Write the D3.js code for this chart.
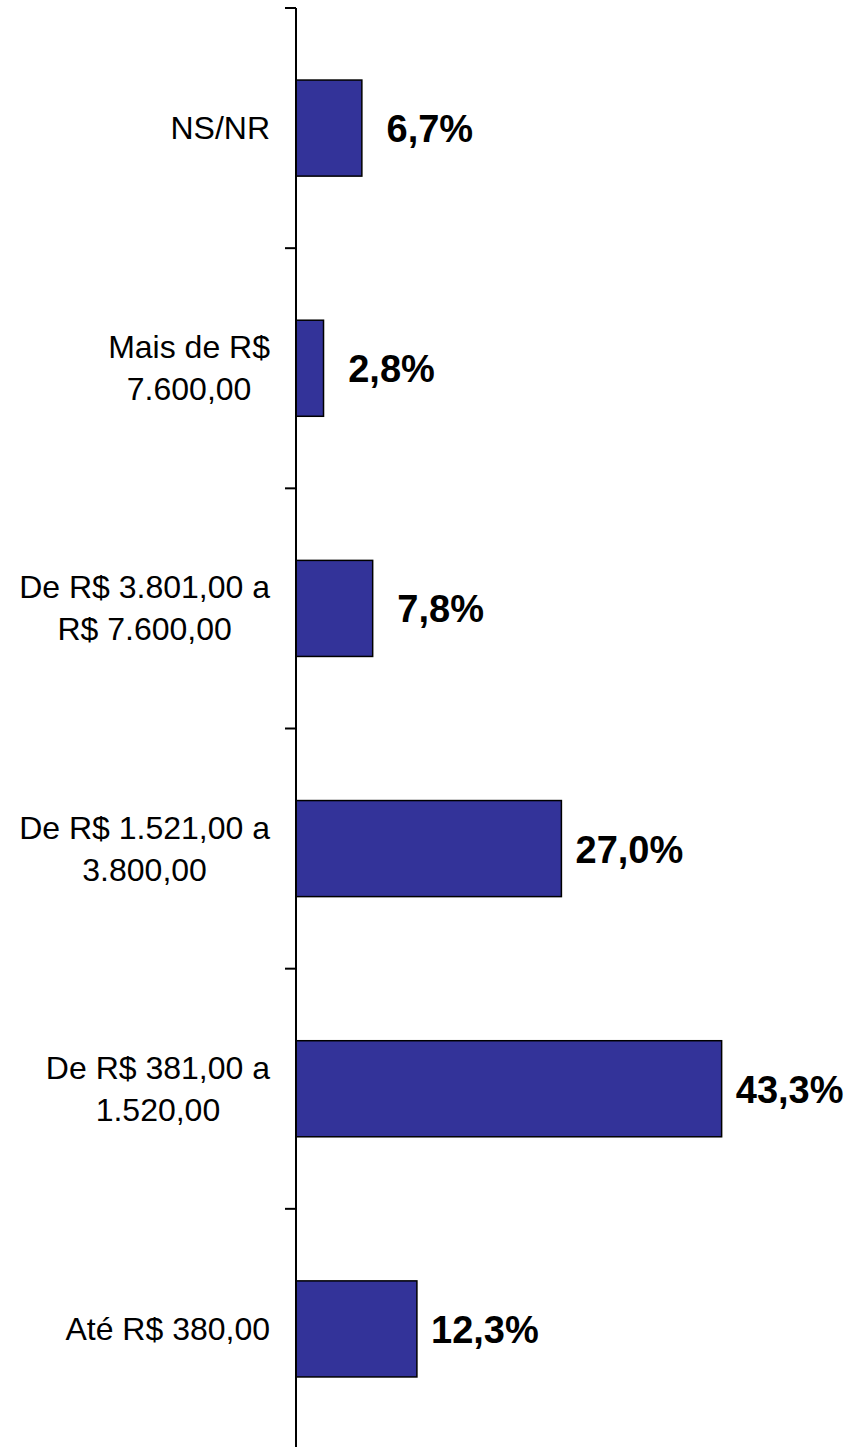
<!DOCTYPE html>
<html>
<head>
<meta charset="utf-8">
<script src="https://cdn.jsdelivr.net/npm/d3@7"></script>
<style>
  body { margin: 0; background: #fff; }
  svg { display: block; }
</style>
</head>
<body>
<div id="chart"></div>
<script>
// categories, listed from top to bottom, with their label lines
const categories = ["NS/NR", "Mais de R$ 7.600,00", "De R$ 3.801,00 a R$ 7.600,00",
    "De R$ 1.521,00 a 3.800,00", "De R$ 381,00 a 1.520,00", "Até R$ 380,00"];
const labelLines = [
    ["NS/NR"],
    ["Mais de R$", "7.600,00"],
    ["De R$ 3.801,00 a", "R$ 7.600,00"],
    ["De R$ 1.521,00 a", "3.800,00"],
    ["De R$ 381,00 a", "1.520,00"],
    ["Até R$ 380,00"]
];
const values = [6.7, 2.8, 7.8, 27.0, 43.3, 12.3];
const valueLabels = ["6,7%", "2,8%", "7,8%", "27,0%", "43,3%", "12,3%"];

const data = categories.map((c, i) => ({ cat: c, lines: labelLines[i], value: values[i], label: valueLabels[i] }));

const width = 853, height = 1447;
const axisX = 296;

const svg = d3.select("#chart")
    .append("svg")
    .attr("width", width)
    .attr("height", height);

// x scale: percent -> pixels
const x = d3.scaleLinear()
    .domain([0, 50])
    .range([axisX, axisX + 491.5]);

// y scale: one band per category
const y = d3.scaleBand()
    .domain(categories)
    .range([8, 1449])
    .paddingInner(0.6)
    .paddingOuter(0.3);

// bars
svg.append("g")
    .selectAll("rect")
    .data(data)
    .join("rect")
    .attr("x", x(0))
    .attr("y", d => y(d.cat))
    .attr("width", d => x(d.value) - x(0))
    .attr("height", y.bandwidth())
    .attr("fill", "#333399")
    .attr("stroke", "#000")
    .attr("stroke-width", 1.5);

// vertical axis with ticks between categories
const step = y.step();
const tickYs = d3.range(categories.length + 1).map(i => y(categories[0]) - step * 0.3 + i * step);
const axis = svg.append("g");
axis.append("line")
    .attr("x1", axisX).attr("x2", axisX)
    .attr("y1", tickYs[0]).attr("y2", height)
    .attr("stroke", "#000").attr("stroke-width", 2);
axis.selectAll("line.tick")
    .data(tickYs)
    .join("line")
    .attr("class", "tick")
    .attr("x1", axisX - 11).attr("x2", axisX)
    .attr("y1", d => d).attr("y2", d => d)
    .attr("stroke", "#000").attr("stroke-width", 2);

// category labels: block right aligned, lines centred inside the block
const labelRight = 270, lineH = 42;
const catG = svg.append("g")
    .style("font-family", "'Liberation Sans', Arial, sans-serif")
    .style("font-size", "32px")
    .attr("fill", "#000");

data.forEach(d => {
    const cy = y(d.cat) + y.bandwidth() / 2;
    const g = catG.append("g");
    const texts = g.selectAll("text")
        .data(d.lines)
        .join("text")
        .attr("text-anchor", "middle")
        .attr("y", (t, i) => cy + 11 + (i - (d.lines.length - 1) / 2) * lineH)
        .text(t => t);
    let maxW = 0;
    texts.each(function () { maxW = Math.max(maxW, this.getComputedTextLength()); });
    texts.attr("x", labelRight - maxW / 2);
});

// value labels
svg.append("g")
    .selectAll("text")
    .data(data)
    .join("text")
    .attr("x", d => x(d.value) + 68)
    .attr("y", d => y(d.cat) + y.bandwidth() / 2 + 14)
    .attr("text-anchor", "middle")
    .style("font-family", "'Liberation Sans', Arial, sans-serif")
    .style("font-size", "38px")
    .style("font-weight", "bold")
    .attr("fill", "#000")
    .text(d => d.label);
</script>
</body>
</html>
